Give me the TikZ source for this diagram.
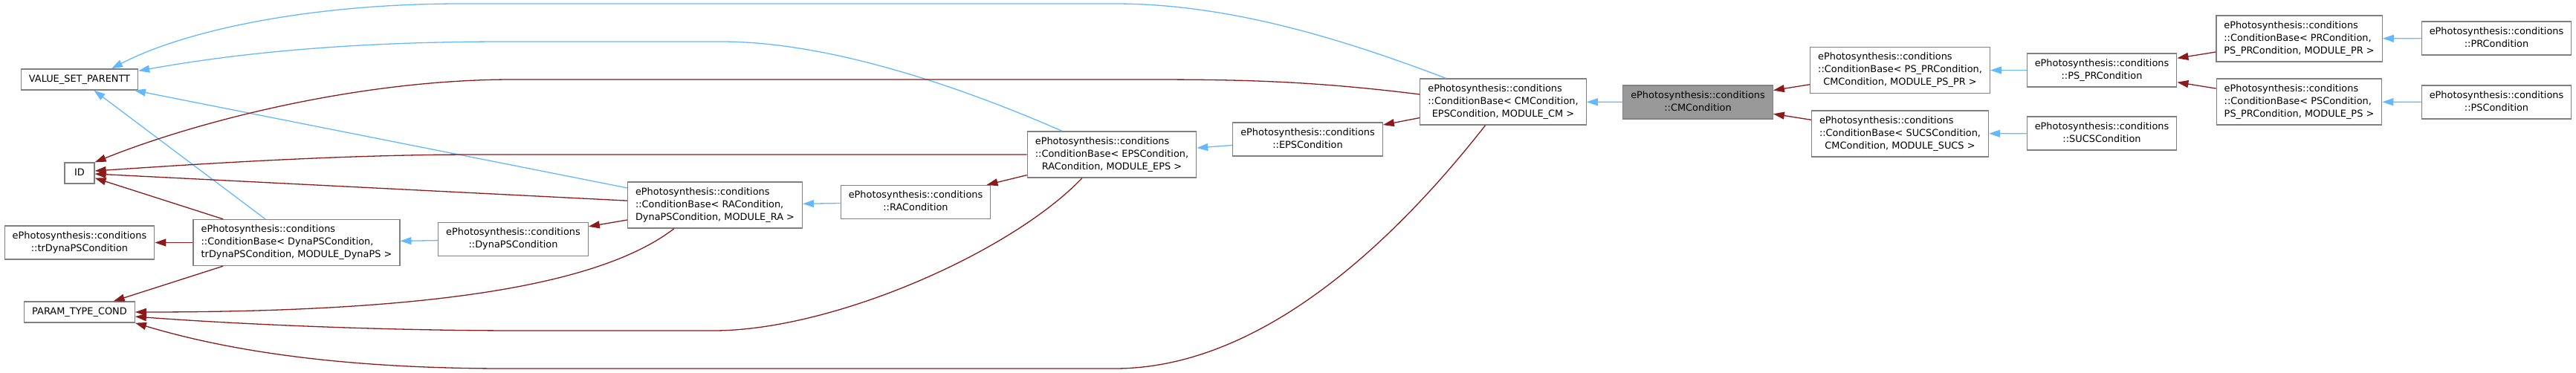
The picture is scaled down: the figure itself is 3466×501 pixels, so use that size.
\documentclass[tikz,border=0pt]{standalone}
\usepackage{fontspec}
\setmainfont{DejaVu Sans}
\usepackage{tikz}
\usetikzlibrary{arrows.meta}
\definecolor{pubblue}{HTML}{63B8FF}
\definecolor{privred}{HTML}{8B1A1A}
\definecolor{boxgray}{HTML}{808080}
\definecolor{curfill}{HTML}{999999}
\tikzset{
  cls/.style={draw=boxgray,fill=white,line width=1.3pt,inner xsep=10.5pt,inner ysep=5.5pt,
    minimum width=40pt,font=\fontsize{12.9pt}{17pt}\selectfont},
  cur/.style={cls,fill=curfill},
  % doxygen: blue = public base, dark red = private base
  pub/.style={draw=pubblue,line width=1.3pt,-{Triangle[length=15pt,width=10pt]}},
  priv/.style={draw=privred,line width=1.3pt,-{Triangle[length=15pt,width=10pt]}},
}
\newcommand{\epc}{ePhotosynthesis::conditions}
\newcommand{\twoline}[2]{\begin{tabular}{@{}c@{}}#1\\#2\end{tabular}}
\newcommand{\tplbase}[3]{\begin{tabular}{@{}l@{}}#1\\#2\\\multicolumn{1}{@{}c@{}}{#3}\end{tabular}}
\begin{document}
\begin{tikzpicture}[x=1pt,y=-1pt]
\useasboundingbox(0,0)rectangle(3466,501);
\node[cls](vsp)at(107,107){\strut VALUE\_SET\_PARENTT};
\node[cls](id)at(107,233){\strut ID};
\node[cls](trdyn)at(107,326.5){\twoline{\epc}{::trDynaPSCondition}};
\node[cls](ptc)at(107,420){\strut PARAM\_TYPE\_COND};
\node[cls](cbdyn)at(399,326.5){\tplbase{\epc}{::ConditionBase< DynaPSCondition,}{trDynaPSCondition, MODULE\_DynaPS >}};
\node[cls](dyn)at(690.5,322){\twoline{\epc}{::DynaPSCondition}};
\node[cls](cbra)at(962,276){\tplbase{\epc}{::ConditionBase< RACondition,}{DynaPSCondition, MODULE\_RA >}};
\node[cls](ra)at(1232,272){\twoline{\epc}{::RACondition}};
\node[cls](cbeps)at(1496,208){\tplbase{\epc}{::ConditionBase< EPSCondition,}{RACondition, MODULE\_EPS >}};
\node[cls](eps)at(1759.5,187.5){\twoline{\epc}{::EPSCondition}};
\node[cls](cbcm)at(2022.5,137){\tplbase{\epc}{::ConditionBase< CMCondition,}{EPSCondition, MODULE\_CM >}};
\node[cur](cm)at(2284.5,137.5){\twoline{\epc}{::CMCondition}};
\node[cls](cbpspr)at(2556.5,94.5){\tplbase{\epc}{::ConditionBase< PS\_PRCondition,}{CMCondition, MODULE\_PS\_PR >}};
\node[cls](pspr)at(2828,94.5){\twoline{\epc}{::PS\_PRCondition}};
\node[cls](cbsucs)at(2556.5,180){\tplbase{\epc}{::ConditionBase< SUCSCondition,}{CMCondition, MODULE\_SUCS >}};
\node[cls](sucs)at(2828,179.5){\twoline{\epc}{::SUCSCondition}};
\node[cls](cbpr)at(3093.5,52){\tplbase{\epc}{::ConditionBase< PRCondition,}{PS\_PRCondition, MODULE\_PR >}};
\node[cls](pr)at(3359,51.5){\twoline{\epc}{::PRCondition}};
\node[cls](cbps)at(3093.5,137){\tplbase{\epc}{::ConditionBase< PSCondition,}{PS\_PRCondition, MODULE\_PS >}};
\node[cls](ps)at(3359,137.5){\twoline{\epc}{::PSCondition}};
\draw[pub](dyn)--(cbdyn);
\draw[pub](ra)--(cbra);
\draw[pub](eps)--(cbeps);
\draw[pub](cm)--(cbcm);
\draw[pub](pspr)--(cbpspr);
\draw[pub](sucs)--(cbsucs);
\draw[pub](pr)--(cbpr);
\draw[pub](ps)--(cbps);
\draw[pub](cbra)--(vsp);
\draw[pub](cbdyn)--(vsp);
\draw[pub]([xshift=-77pt]cbcm.north)..controls(1800,50)and(1650,5)..(1500,5)--(620,5)..controls(420,5)and(250,40)..([xshift=43pt]vsp.north);
\draw[pub]([xshift=-67pt]cbeps.north)..controls(1300,120)and(1120,56)..(970,56)--(680,56)..controls(450,56)and(300,75)..([yshift=-3pt]vsp.north east);
\draw[priv](cbdyn)--(trdyn);
\draw[priv](cbdyn)--(id);
\draw[priv](cbdyn)--(ptc);
\draw[priv](cbra)--(dyn);
\draw[priv](cbra)--(id);
\draw[priv](cbeps)--(ra);
\draw[priv](cbcm)--(eps);
\draw[priv](cbpspr)--(cm);
\draw[priv](cbsucs)--(cm);
\draw[priv](cbpr)--(pspr);
\draw[priv](cbps)--(pspr);
\draw[priv]([yshift=10pt]cbcm.west)..controls(1750,107)and(1650,107)..(1520,107)--(690,107)..controls(480,107)and(260,165)..(id.north east);
\draw[priv](cbeps.west)--(640,208)..controls(450,208)and(250,222)..([yshift=3pt]id.east);
\draw[priv]([xshift=-55pt]cbra.south)..controls(800,390)and(550,420)..(ptc.east);
\draw[priv]([xshift=-40pt]cbeps.south)..controls(1360,340)and(1120,445)..(960,445)--(700,445)..controls(500,445)and(300,435)..([yshift=-6pt]ptc.east);
\draw[priv]([xshift=-24pt]cbcm.south)..controls(1880,320)and(1700,496)..(1500,496)--(680,496)..controls(450,496)and(300,470)..(ptc.south east);
\end{tikzpicture}
\end{document}
